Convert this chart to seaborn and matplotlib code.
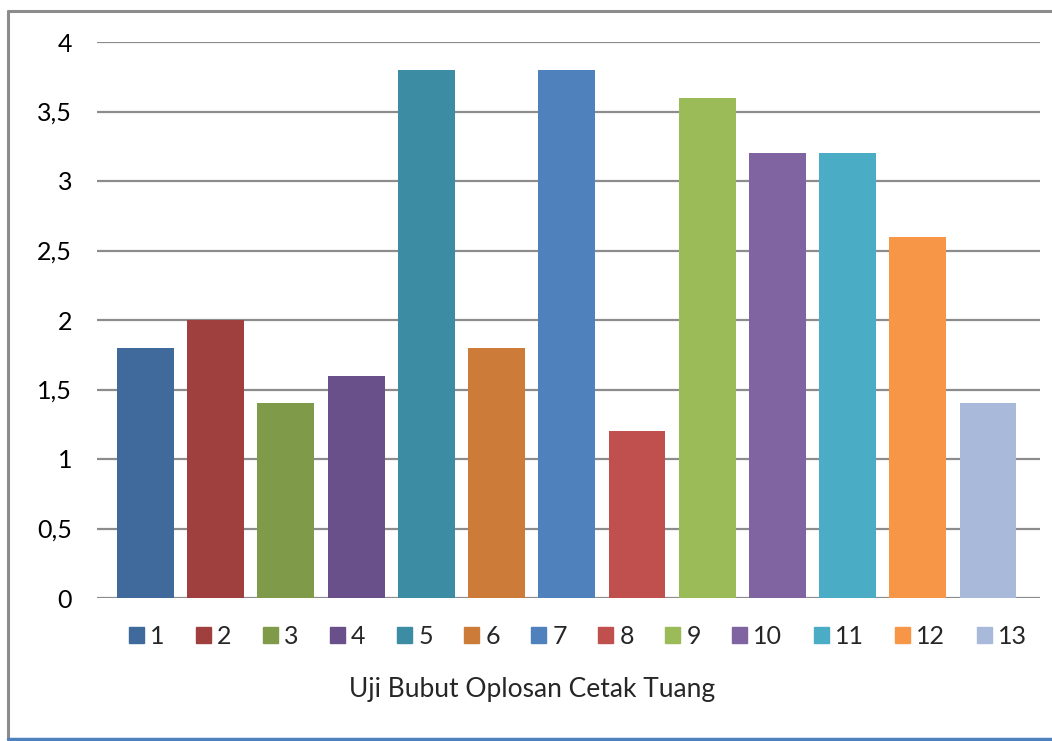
"""Grafik batang uji bubut oplosan cetak tuang."""

import matplotlib
matplotlib.use("Agg")
import matplotlib.pyplot as plt
from matplotlib.lines import Line2D
from matplotlib.ticker import FuncFormatter, MultipleLocator
import pandas as pd
import seaborn as sns


SAMPLES = ["1", "2", "3", "4", "5", "6", "7", "8", "9", "10", "11", "12", "13"]
VALUES = [1.8, 2.0, 1.4, 1.6, 3.8, 1.8, 3.8, 1.2, 3.6, 3.2, 3.2, 2.6, 1.4]
COLORS = [
    "#416A9C", "#A0403E", "#7F9A48", "#69508A", "#3C8DA3", "#CC7B38", "#4F81BD",
    "#C0504D", "#9BBB59", "#8064A2", "#4BACC6", "#F79646", "#A9B9D9",
]
XLABEL = "Uji Bubut Oplosan Cetak Tuang"


sns.set_style("white")
plt.rcParams["font.family"] = ["Lato", "DejaVu Sans"]

df = pd.DataFrame({"sampel": SAMPLES, "nilai": VALUES})

fig = plt.figure(figsize=(10.52, 7.41), dpi=100)
ax = fig.add_axes([97 / 1052, 1 - 598 / 741, (1040 - 97) / 1052, (598 - 42) / 741])

sns.barplot(
    data=df,
    x="sampel",
    y="nilai",
    hue="sampel",
    order=SAMPLES,
    hue_order=SAMPLES,
    palette=COLORS,
    dodge=False,
    width=0.81,
    saturation=1,
    linewidth=0,
    legend=False,
    ax=ax,
)

ax.set_ylim(0, 4)
ax.set_xlim(-0.69, len(SAMPLES) - 1 + 0.74)
ax.yaxis.set_major_locator(MultipleLocator(0.5))
ax.yaxis.set_major_formatter(
    FuncFormatter(lambda v, _: f"{v:g}".replace(".", ","))
)
ax.grid(axis="y", color="#8c8c8c", linewidth=1.6)
ax.set_axisbelow(True)
for spine in ax.spines.values():
    spine.set_visible(False)
ax.tick_params(axis="y", length=0, pad=18, labelsize=18, labelcolor="#000000")
ax.set_xticks([])
ax.set_ylabel("")
ax.set_xlabel("")

fig.text(532 / 1052, 1 - 690 / 741, XLABEL, fontsize=19, ha="center", va="center")

handles = [plt.Rectangle((0, 0), 1, 1, color=c) for c in COLORS]
ax.legend(
    handles,
    SAMPLES,
    ncol=len(SAMPLES),
    loc="center",
    bbox_to_anchor=(0.51, (636 - 598) / -556),
    frameon=False,
    fontsize=18,
    handlelength=0.6,
    handleheight=0.6,
    handletextpad=0.25,
    columnspacing=1.25,
    borderaxespad=0,
)

# bingkai grafik
fig.add_artist(Line2D([8 / 1052, 8 / 1052], [1 - 11 / 741, 1 - 739 / 741],
                      color="#8c8c8c", linewidth=2.2))
fig.add_artist(Line2D([8 / 1052, 1.0], [1 - 11 / 741, 1 - 11 / 741],
                      color="#8c8c8c", linewidth=2.2))
fig.add_artist(Line2D([8 / 1052, 1.0], [1 - 739 / 741, 1 - 739 / 741],
                      color="#4F81BD", linewidth=2.5))

fig.savefig("out.png", dpi=100)
